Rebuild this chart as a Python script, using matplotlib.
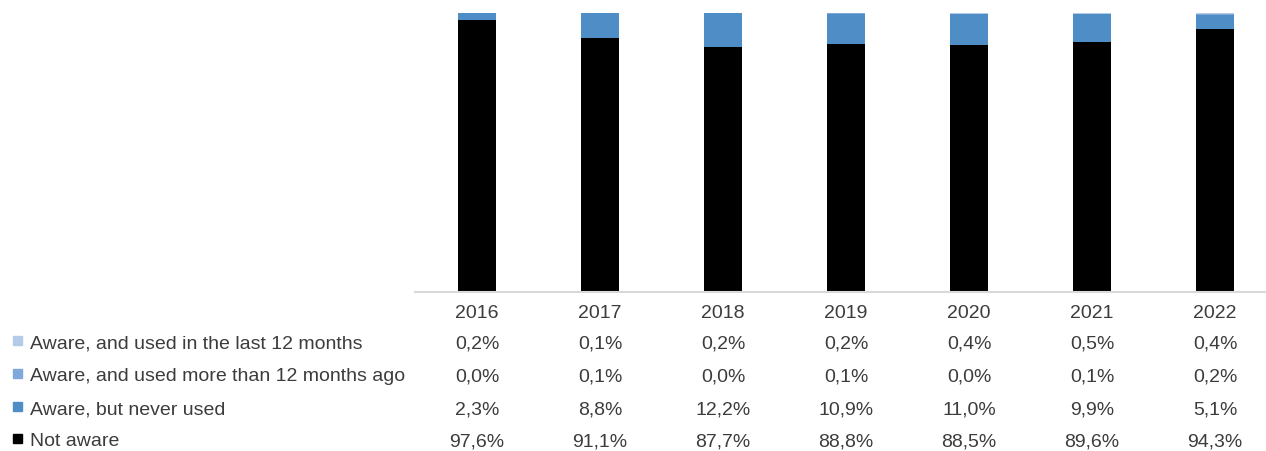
import numpy as np
import matplotlib.pyplot as plt
import matplotlib.patches as patches

years = ["2016", "2017", "2018", "2019", "2020", "2021", "2022"]
not_aware = [97.6, 91.1, 87.7, 88.8, 88.5, 89.6, 94.3]
never_used = [2.3, 8.8, 12.2, 10.9, 11.0, 9.9, 5.1]
used_over_12m = [0.0, 0.1, 0.0, 0.1, 0.0, 0.1, 0.2]
used_last_12m = [0.2, 0.1, 0.2, 0.2, 0.4, 0.5, 0.4]

series = [
    ("Aware, and used in the last 12 months", used_last_12m, "#B4CBE8"),
    ("Aware, and used more than 12 months ago", used_over_12m, "#7FA9DA"),
    ("Aware, but never used", never_used, "#4F8DC6"),
    ("Not aware", not_aware, "#000000"),
]

W, H = 1266, 452
plt.rcParams['font.family'] = ['Liberation Sans', 'DejaVu Sans']
fig = plt.figure(figsize=(W / 100, H / 100), dpi=100)

# axes box in pixels: left 415, baseline 293, top 13
ax = fig.add_axes([415 / W, (H - 293) / H, (W - 415) / W, (293 - 13) / H])
x = np.arange(len(years))
bottom = np.zeros(len(years))
for name, vals, col in reversed(series):
    ax.bar(x, vals, width=0.31, bottom=bottom, color=col)
    bottom += np.array(vals)

ax.set_ylim(0, 100.3)
ax.set_xlim(-0.505, -0.505 + (W - 415) / 123)
for s in ["top", "left", "right"]:
    ax.spines[s].set_visible(False)
ax.spines["bottom"].set_color("#D9D9D9")
ax.spines["bottom"].set_linewidth(1.5)
ax.set_yticks([])
ax.set_xticks([])

txt = "#3C3C3C"
fs = 14
ax_h = 293 - 13
shift = 2  # text bbox sits a bit high with va="center"

def row_y(py):
    return (293 - py - shift) / ax_h

for i, yr in enumerate(years):
    ax.text(i, row_y(311), yr, transform=ax.get_xaxis_transform(),
            ha="center", va="center", fontsize=fs, color=txt)

rows_py = [342, 375, 408, 440]
for (name, vals, col), py in zip(series, rows_py):
    fig.text(30 / W, (H - py - shift) / H, name, ha="left", va="center",
             fontsize=fs, color=txt)
    fig.patches.append(patches.Rectangle((13 / W, (H - py - 4) / H), 9 / W, 9 / H,
                                         transform=fig.transFigure, color=col))
    for i, v in enumerate(vals):
        ax.text(i, row_y(py), f"{v:.1f}%".replace(".", ","),
                transform=ax.get_xaxis_transform(), ha="center", va="center",
                fontsize=fs, color=txt)

fig.savefig("out.png", dpi=100)
